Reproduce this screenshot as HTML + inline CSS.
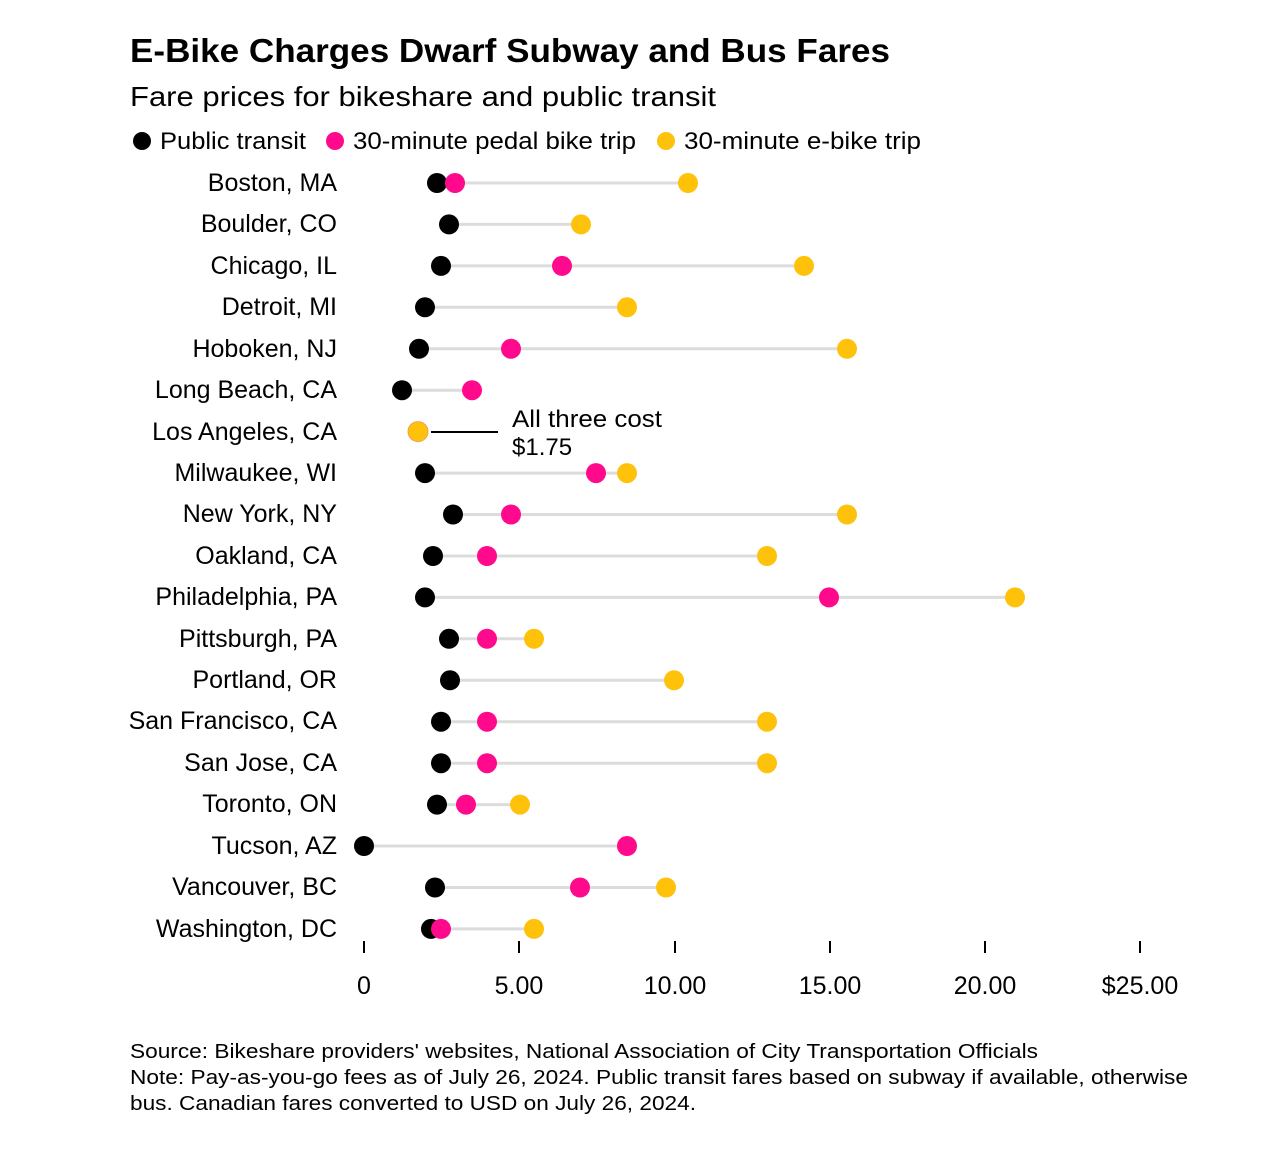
<!DOCTYPE html>
<html><head><meta charset="utf-8"><style>
body{margin:0;background:#fff}
svg{display:block;font-family:"Liberation Sans",Arial,sans-serif}
</style></head><body>
<svg width="1280" height="1153" viewBox="0 0 1280 1153">
<text x="130" y="62" font-size="33" font-weight="bold" textLength="760" lengthAdjust="spacingAndGlyphs">E-Bike Charges Dwarf Subway and Bus Fares</text>
<text x="130" y="106" font-size="28" textLength="586" lengthAdjust="spacingAndGlyphs">Fare prices for bikeshare and public transit</text>
<g font-size="24">
<circle cx="142" cy="141" r="9" fill="#000"/><text x="160" y="149" textLength="146" lengthAdjust="spacingAndGlyphs">Public transit</text>
<circle cx="335" cy="141" r="9" fill="#ff0a8c"/><text x="353" y="149" textLength="283" lengthAdjust="spacingAndGlyphs">30-minute pedal bike trip</text>
<circle cx="666" cy="141" r="9" fill="#ffc20a"/><text x="684" y="149" textLength="237" lengthAdjust="spacingAndGlyphs">30-minute e-bike trip</text>
</g>
<g font-size="25" text-anchor="end">
<text x="337" y="191">Boston, MA</text>
<text x="337" y="232">Boulder, CO</text>
<text x="337" y="274">Chicago, IL</text>
<text x="337" y="315">Detroit, MI</text>
<text x="337" y="357">Hoboken, NJ</text>
<text x="337" y="398">Long Beach, CA</text>
<text x="337" y="440">Los Angeles, CA</text>
<text x="337" y="481">Milwaukee, WI</text>
<text x="337" y="522">New York, NY</text>
<text x="337" y="564">Oakland, CA</text>
<text x="337" y="605">Philadelphia, PA</text>
<text x="337" y="647">Pittsburgh, PA</text>
<text x="337" y="688">Portland, OR</text>
<text x="337" y="729">San Francisco, CA</text>
<text x="337" y="771">San Jose, CA</text>
<text x="337" y="812">Toronto, ON</text>
<text x="337" y="854">Tucson, AZ</text>
<text x="337" y="895">Vancouver, BC</text>
<text x="337" y="937">Washington, DC</text>
</g>
<g stroke="#dcdcdc" stroke-width="3">
<line x1="437" y1="183" x2="688" y2="183"/>
<line x1="449" y1="224.4" x2="581" y2="224.4"/>
<line x1="441" y1="265.9" x2="804" y2="265.9"/>
<line x1="425" y1="307.3" x2="627" y2="307.3"/>
<line x1="419" y1="348.8" x2="847" y2="348.8"/>
<line x1="402" y1="390.2" x2="472" y2="390.2"/>
<line x1="425" y1="473.1" x2="627" y2="473.1"/>
<line x1="453" y1="514.5" x2="847" y2="514.5"/>
<line x1="433" y1="556" x2="767" y2="556"/>
<line x1="425" y1="597.4" x2="1015" y2="597.4"/>
<line x1="449" y1="638.8" x2="534" y2="638.8"/>
<line x1="450" y1="680.3" x2="674" y2="680.3"/>
<line x1="441" y1="721.7" x2="767" y2="721.7"/>
<line x1="441" y1="763.2" x2="767" y2="763.2"/>
<line x1="437" y1="804.6" x2="520" y2="804.6"/>
<line x1="364" y1="846" x2="627" y2="846"/>
<line x1="435" y1="887.5" x2="666" y2="887.5"/>
<line x1="431" y1="928.9" x2="534" y2="928.9"/>
</g>
<g fill="#ffc20a">
<circle cx="688" cy="183" r="10"/><circle cx="581" cy="224.4" r="10"/><circle cx="804" cy="265.9" r="10"/>
<circle cx="627" cy="307.3" r="10"/><circle cx="847" cy="348.8" r="10"/><circle cx="627" cy="473.1" r="10"/>
<circle cx="847" cy="514.5" r="10"/><circle cx="767" cy="556" r="10"/><circle cx="1015" cy="597.4" r="10"/>
<circle cx="534" cy="638.8" r="10"/><circle cx="674" cy="680.3" r="10"/><circle cx="767" cy="721.7" r="10"/>
<circle cx="767" cy="763.2" r="10"/><circle cx="520" cy="804.6" r="10"/><circle cx="666" cy="887.5" r="10"/>
<circle cx="534" cy="928.9" r="10"/>
</g>
<g fill="#ff0a8c">
<circle cx="562" cy="265.9" r="10"/><circle cx="511" cy="348.8" r="10"/><circle cx="472" cy="390.2" r="10"/>
<circle cx="596" cy="473.1" r="10"/><circle cx="511" cy="514.5" r="10"/><circle cx="487" cy="556" r="10"/>
<circle cx="829" cy="597.4" r="10"/><circle cx="487" cy="638.8" r="10"/><circle cx="487" cy="721.7" r="10"/>
<circle cx="487" cy="763.2" r="10"/><circle cx="466" cy="804.6" r="10"/><circle cx="627" cy="846" r="10"/>
<circle cx="580" cy="887.5" r="10"/>
</g>
<g fill="#000">
<circle cx="437" cy="183" r="10"/><circle cx="449" cy="224.4" r="10"/><circle cx="441" cy="265.9" r="10"/>
<circle cx="425" cy="307.3" r="10"/><circle cx="419" cy="348.8" r="10"/><circle cx="402" cy="390.2" r="10"/>
<circle cx="425" cy="473.1" r="10"/><circle cx="453" cy="514.5" r="10"/><circle cx="433" cy="556" r="10"/>
<circle cx="425" cy="597.4" r="10"/><circle cx="449" cy="638.8" r="10"/><circle cx="450" cy="680.3" r="10"/>
<circle cx="441" cy="721.7" r="10"/><circle cx="441" cy="763.2" r="10"/><circle cx="437" cy="804.6" r="10"/>
<circle cx="364" cy="846" r="10"/><circle cx="435" cy="887.5" r="10"/><circle cx="431" cy="928.9" r="10"/>
</g>
<circle cx="455" cy="183" r="10" fill="#ff0a8c"/>
<circle cx="441" cy="928.9" r="10" fill="#ff0a8c"/>
<circle cx="418" cy="431.6" r="10" fill="#ffc20a" stroke="#f0a050" stroke-width="1"/>
<line x1="431" y1="432" x2="498" y2="432" stroke="#000" stroke-width="2"/>
<text x="512" y="427" font-size="24" textLength="150" lengthAdjust="spacingAndGlyphs">All three cost</text>
<text x="512" y="455" font-size="24">$1.75</text>
<g stroke="#000" stroke-width="2">
<line x1="364" y1="941" x2="364" y2="953"/><line x1="519" y1="941" x2="519" y2="953"/>
<line x1="675" y1="941" x2="675" y2="953"/><line x1="830" y1="941" x2="830" y2="953"/>
<line x1="985" y1="941" x2="985" y2="953"/><line x1="1140" y1="941" x2="1140" y2="953"/>
</g>
<g font-size="25" text-anchor="middle">
<text x="364" y="994">0</text><text x="519" y="994">5.00</text><text x="675" y="994">10.00</text>
<text x="830" y="994">15.00</text><text x="985" y="994">20.00</text><text x="1140" y="994">$25.00</text>
</g>
<g font-size="20">
<text x="130" y="1058" textLength="908" lengthAdjust="spacingAndGlyphs">Source: Bikeshare providers' websites, National Association of City Transportation Officials</text>
<text x="130" y="1084" textLength="1058" lengthAdjust="spacingAndGlyphs">Note: Pay-as-you-go fees as of July 26, 2024. Public transit fares based on subway if available, otherwise</text>
<text x="130" y="1110" textLength="566" lengthAdjust="spacingAndGlyphs">bus. Canadian fares converted to USD on July 26, 2024.</text>
</g>
</svg>
</body></html>
